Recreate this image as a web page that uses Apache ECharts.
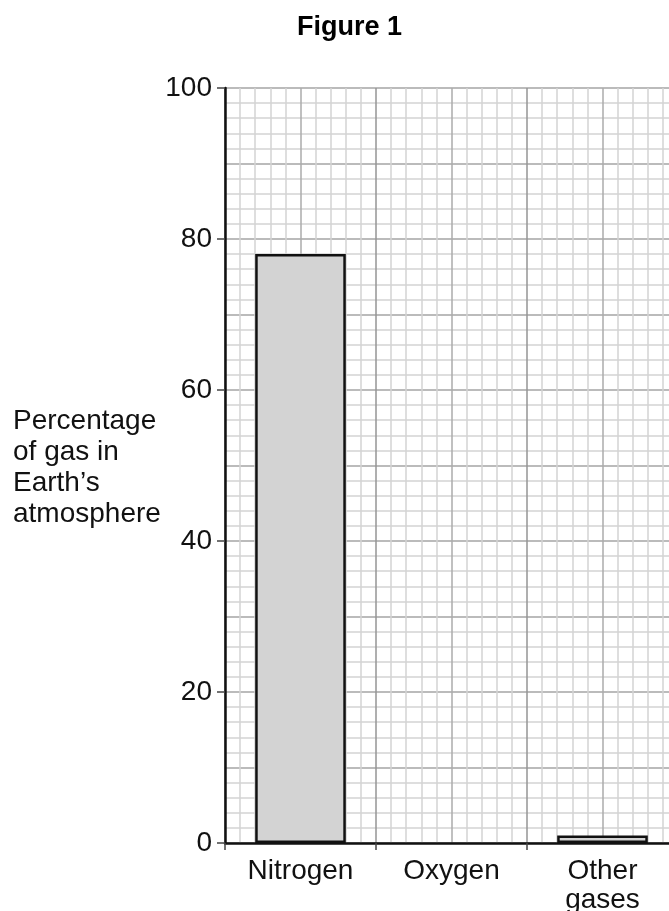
<!DOCTYPE html>
<html>
<head>
<meta charset="utf-8">
<script src="https://cdn.jsdelivr.net/npm/echarts@6/dist/echarts.min.js"></script>
<style>
html,body{margin:0;padding:0;background:#fff;overflow:hidden;width:669px;height:911px;}
#chart{width:700px;height:911px;}
</style>
</head>
<body>
<div id="chart"></div>
<script>
const categories = ['Nitrogen', 'Oxygen', 'Other\ngases'];
const percentages = [78, null, 1];
const yTickLabels = [0, 20, 40, 60, 80, 100];
const yAxisTitle = 'Percentage\nof gas in\nEarth\u2019s\natmosphere';
const figureTitle = 'Figure 1';

const FONT = '"Liberation Sans", Arial, sans-serif';
const chart = echarts.init(document.getElementById('chart'));
chart.setOption({
  animation: false,
  backgroundColor: '#fff',
  title: {
    text: figureTitle,
    left: 292, top: 9,
    textStyle: {fontFamily: FONT, fontSize: 27, fontWeight: 'bold', color: '#000'}
  },
  graphic: [{
    type: 'text', left: 13, top: 406,
    style: {text: yAxisTitle, font: '28px ' + FONT, fill: '#111', lineHeight: 31}
  }],
  grid: {left: 225, top: 88, right: 22, bottom: 68, containLabel: false, outerBoundsMode: 'none'},
  xAxis: [{
    type: 'category',
    data: categories,
    position: 'bottom',
    axisLine: {show: true, lineStyle: {color: '#111', width: 2.5}},
    axisTick: {show: true, length: 7, lineStyle: {color: '#444', width: 1.5}},
    axisLabel: {margin: 14, fontFamily: FONT, fontSize: 28, color: '#111', lineHeight: 29},
    splitLine: {show: false}
  }, {
    type: 'value', min: 0, max: 3, interval: 0.5,
    position: 'bottom',
    axisLine: {show: false}, axisTick: {show: false}, axisLabel: {show: false},
    splitLine: {show: true, lineStyle: {color: ['#959595', '#ababab'], width: 1.5}},
    minorTick: {show: false, splitNumber: 5},
    minorSplitLine: {show: true, lineStyle: {color: '#d4d4d4', width: 1.5}}
  }],
  yAxis: [{
    type: 'value', min: 0, max: 100, interval: 10,
    position: 'left',
    axisLine: {show: false}, axisTick: {show: false}, axisLabel: {show: false},
    splitLine: {show: true, lineStyle: {color: '#a4a4a4', width: 1.5}},
    minorTick: {show: false, splitNumber: 5},
    minorSplitLine: {show: true, lineStyle: {color: '#d4d4d4', width: 1.5}}
  }, {
    type: 'value', min: yTickLabels[0], max: yTickLabels[yTickLabels.length - 1], interval: 20,
    position: 'left',
    axisLine: {show: true, onZero: false, lineStyle: {color: '#111', width: 2.5}},
    axisTick: {show: true, length: 8, lineStyle: {color: '#444', width: 1.5}},
    axisLabel: {margin: 13, fontFamily: FONT, fontSize: 28, color: '#111'},
    splitLine: {show: false}
  }],
  series: [{
    type: 'bar',
    xAxisIndex: 0, yAxisIndex: 1,
    data: percentages,
    barWidth: '60%',
    itemStyle: {color: '#d3d3d3', borderColor: '#111', borderWidth: 2.5},
    z: 3
  }]
});
</script>
</body>
</html>
